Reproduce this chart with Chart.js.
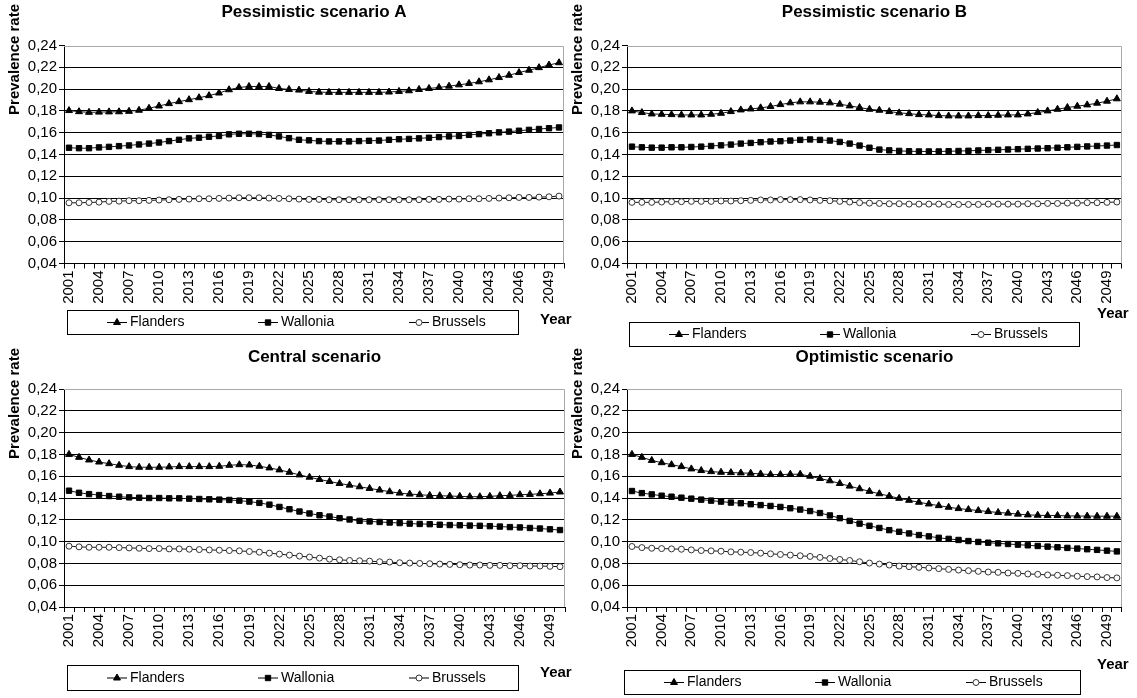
<!DOCTYPE html>
<html>
<head>
<meta charset="utf-8">
<script src="https://cdn.jsdelivr.net/npm/chart.js@4/dist/chart.umd.min.js"></script>
<style>
  html, body { margin: 0; padding: 0; background: #fff; }
  #wrap { position: relative; width: 1137px; height: 698px; overflow: hidden; background: #fff; }
  #wrap canvas { position: absolute; left: 0; top: 0; }
</style>
</head>
<body>
<div id="wrap">
  <canvas id="chartA" width="1137" height="698"></canvas>
  <canvas id="chartB" width="1137" height="698"></canvas>
  <canvas id="chartC" width="1137" height="698"></canvas>
  <canvas id="chartD" width="1137" height="698"></canvas>
</div>
<script>
// Projection years (category axis)
const years = ['2001','2002','2003','2004','2005','2006','2007','2008','2009','2010',
  '2011','2012','2013','2014','2015','2016','2017','2018','2019','2020',
  '2021','2022','2023','2024','2025','2026','2027','2028','2029','2030',
  '2031','2032','2033','2034','2035','2036','2037','2038','2039','2040',
  '2041','2042','2043','2044','2045','2046','2047','2048','2049','2050'];

// Prevalence-rate axis ticks
const yTickValues = [0.04, 0.06, 0.08, 0.10, 0.12, 0.14, 0.16, 0.18, 0.20, 0.22, 0.24];

const regionNames = ['Flanders', 'Wallonia', 'Brussels'];

// Pessimistic scenario A
const flandersA = [0.1803,0.1793,0.1787,0.1789,0.1791,0.1792,0.1796,0.1806,0.1824,0.1845,
  0.1867,0.1885,0.1903,0.1921,0.1940,0.1964,0.1994,0.2015,0.2024,0.2024,
  0.2024,0.2006,0.1997,0.1991,0.1979,0.1972,0.1970,0.1970,0.1970,0.1970,
  0.1970,0.1970,0.1973,0.1979,0.1985,0.1997,0.2006,0.2015,0.2027,0.2039,
  0.2052,0.2067,0.2085,0.2106,0.2127,0.2152,0.2173,0.2197,0.2221,0.2242];
const walloniaA = [0.1462,0.1458,0.1458,0.1465,0.1470,0.1477,0.1483,0.1492,0.1500,0.1510,
  0.1523,0.1535,0.1548,0.1554,0.1563,0.1570,0.1585,0.1590,0.1590,0.1588,
  0.1580,0.1566,0.1550,0.1535,0.1530,0.1523,0.1520,0.1520,0.1520,0.1523,
  0.1526,0.1528,0.1535,0.1540,0.1543,0.1548,0.1554,0.1560,0.1566,0.1570,
  0.1580,0.1587,0.1595,0.1603,0.1610,0.1618,0.1626,0.1634,0.1641,0.1648];
const brusselsA = [0.0957,0.0957,0.0960,0.0963,0.0970,0.0972,0.0976,0.0976,0.0979,0.0982,
  0.0985,0.0988,0.0991,0.0994,0.0994,0.0997,0.1000,0.1003,0.1003,0.1003,
  0.1000,0.0997,0.0994,0.0991,0.0988,0.0988,0.0985,0.0985,0.0985,0.0985,
  0.0985,0.0985,0.0985,0.0985,0.0985,0.0985,0.0988,0.0988,0.0991,0.0991,
  0.0994,0.0994,0.0997,0.1000,0.1003,0.1006,0.1006,0.1009,0.1012,0.1018];

// Pessimistic scenario B
const flandersB = [0.1800,0.1785,0.1772,0.1769,0.1766,0.1763,0.1763,0.1763,0.1769,0.1778,
  0.1794,0.1809,0.1818,0.1828,0.1840,0.1858,0.1874,0.1883,0.1883,0.1880,
  0.1874,0.1862,0.1846,0.1831,0.1815,0.1806,0.1794,0.1782,0.1775,0.1766,
  0.1763,0.1757,0.1754,0.1754,0.1754,0.1757,0.1757,0.1760,0.1763,0.1763,
  0.1772,0.1785,0.1800,0.1815,0.1831,0.1843,0.1855,0.1871,0.1889,0.1911];
const walloniaB = [0.1472,0.1466,0.1463,0.1463,0.1466,0.1466,0.1469,0.1472,0.1478,0.1484,
  0.1491,0.1500,0.1506,0.1513,0.1519,0.1522,0.1528,0.1534,0.1538,0.1534,
  0.1528,0.1515,0.1500,0.1482,0.1462,0.1445,0.1438,0.1433,0.1430,0.1428,
  0.1428,0.1428,0.1430,0.1432,0.1434,0.1437,0.1440,0.1443,0.1446,0.1449,
  0.1452,0.1455,0.1458,0.1462,0.1466,0.1470,0.1474,0.1478,0.1482,0.1487];
const brusselsB = [0.0961,0.0961,0.0961,0.0964,0.0967,0.0967,0.0970,0.0970,0.0970,0.0973,
  0.0973,0.0976,0.0979,0.0983,0.0983,0.0986,0.0986,0.0986,0.0983,0.0979,
  0.0976,0.0970,0.0964,0.0958,0.0954,0.0951,0.0948,0.0948,0.0945,0.0945,
  0.0945,0.0945,0.0942,0.0942,0.0942,0.0942,0.0945,0.0945,0.0945,0.0945,
  0.0948,0.0948,0.0951,0.0951,0.0954,0.0954,0.0958,0.0958,0.0961,0.0964];

// Central scenario
const flandersC = [0.1800,0.1773,0.1749,0.1730,0.1715,0.1700,0.1688,0.1682,0.1682,0.1682,
  0.1685,0.1688,0.1688,0.1688,0.1688,0.1691,0.1700,0.1706,0.1703,0.1691,
  0.1676,0.1658,0.1636,0.1612,0.1591,0.1570,0.1552,0.1533,0.1518,0.1503,
  0.1488,0.1473,0.1458,0.1445,0.1436,0.1430,0.1424,0.1421,0.1418,0.1415,
  0.1412,0.1412,0.1415,0.1421,0.1424,0.1430,0.1433,0.1439,0.1445,0.1455];
const walloniaC = [0.1467,0.1448,0.1436,0.1427,0.1418,0.1412,0.1406,0.1403,0.1400,0.1400,
  0.1397,0.1397,0.1394,0.1391,0.1388,0.1385,0.1382,0.1376,0.1367,0.1355,
  0.1339,0.1318,0.1297,0.1276,0.1258,0.1242,0.1230,0.1215,0.1203,0.1190,
  0.1185,0.1180,0.1175,0.1170,0.1165,0.1162,0.1160,0.1155,0.1152,0.1150,
  0.1147,0.1145,0.1142,0.1138,0.1133,0.1130,0.1125,0.1120,0.1113,0.1106];
const brusselsC = [0.0958,0.0952,0.0948,0.0948,0.0948,0.0945,0.0942,0.0939,0.0936,0.0936,
  0.0933,0.0933,0.0930,0.0927,0.0924,0.0921,0.0918,0.0915,0.0909,0.0903,
  0.0894,0.0885,0.0876,0.0867,0.0858,0.0848,0.0839,0.0833,0.0827,0.0824,
  0.0821,0.0815,0.0812,0.0806,0.0803,0.0800,0.0797,0.0794,0.0791,0.0788,
  0.0785,0.0785,0.0782,0.0782,0.0779,0.0779,0.0776,0.0776,0.0773,0.0770];

// Optimistic scenario
const flandersD = [0.1800,0.1773,0.1745,0.1724,0.1706,0.1688,0.1667,0.1652,0.1642,0.1636,
  0.1633,0.1630,0.1627,0.1621,0.1615,0.1615,0.1618,0.1618,0.1600,0.1579,
  0.1558,0.1533,0.1509,0.1485,0.1461,0.1439,0.1418,0.1397,0.1379,0.1361,
  0.1345,0.1330,0.1315,0.1303,0.1294,0.1285,0.1276,0.1267,0.1261,0.1252,
  0.1245,0.1242,0.1239,0.1239,0.1236,0.1235,0.1234,0.1233,0.1233,0.1233];
const walloniaD = [0.1464,0.1445,0.1433,0.1421,0.1412,0.1403,0.1394,0.1385,0.1376,0.1367,
  0.1358,0.1352,0.1343,0.1335,0.1327,0.1318,0.1306,0.1294,0.1280,0.1262,
  0.1240,0.1215,0.1190,0.1165,0.1145,0.1125,0.1105,0.1090,0.1075,0.1060,
  0.1048,0.1035,0.1025,0.1015,0.1005,0.0997,0.0990,0.0984,0.0978,0.0972,
  0.0966,0.0960,0.0954,0.0948,0.0942,0.0936,0.0930,0.0924,0.0917,0.0910];
const brusselsD = [0.0955,0.0945,0.0939,0.0936,0.0933,0.0930,0.0924,0.0918,0.0915,0.0912,
  0.0906,0.0903,0.0900,0.0894,0.0888,0.0882,0.0876,0.0870,0.0864,0.0855,
  0.0845,0.0836,0.0827,0.0815,0.0803,0.0794,0.0785,0.0776,0.0770,0.0764,
  0.0758,0.0752,0.0745,0.0739,0.0733,0.0727,0.0721,0.0718,0.0712,0.0709,
  0.0703,0.0700,0.0694,0.0691,0.0688,0.0682,0.0679,0.0676,0.0670,0.0667];

const FONT = '"Liberation Sans", Arial, Helvetica, sans-serif';
const PAGE_W = 1137, PAGE_H = 698;
const Y_AXIS_W = 50, X_AXIS_H = 48;

// Marker look for each region
const seriesStyle = [
  { pointStyle: 'triangle', radius: 4,   fill: '#000', stroke: '#000' },
  { pointStyle: 'rect',     radius: 3.8, fill: '#000', stroke: '#000' },
  { pointStyle: 'circle',   radius: 3,   fill: '#fff', stroke: '#333' }
];

// Panel arrangement on the page
const panels = [
  { canvas: 'chartA', title: 'Pessimistic scenario A', series: [flandersA, walloniaA, brusselsA],
    plot: { l: 64, r: 564, t: 45.5, b: 263.5 }, titleY: 12, captionX: 15, captionTop: 4,
    yearX: 540, yearY: 320, legend: { x: 67, y: 310, w: 451, h: 24 } },
  { canvas: 'chartB', title: 'Pessimistic scenario B', series: [flandersB, walloniaB, brusselsB],
    plot: { l: 627, r: 1125, t: 45.5, b: 263.5 }, titleY: 12, captionX: 578, captionTop: 4,
    yearX: 1097, yearY: 314, legend: { x: 629, y: 322, w: 450, h: 24 } },
  { canvas: 'chartC', title: 'Central scenario', series: [flandersC, walloniaC, brusselsC],
    plot: { l: 64, r: 565, t: 389, b: 607 }, titleY: 357, captionX: 15, captionTop: 348,
    yearX: 540, yearY: 673, legend: { x: 67, y: 665, w: 451, h: 25 } },
  { canvas: 'chartD', title: 'Optimistic scenario', series: [flandersD, walloniaD, brusselsD],
    plot: { l: 627, r: 1125, t: 389, b: 607 }, titleY: 357, captionX: 578, captionTop: 348,
    yearX: 1097, yearY: 665, legend: { x: 624, y: 670, w: 456, h: 24 } }
];

// Plot-area frame, titles, axis captions and boxed legend
const panelDecor = {
  id: 'panelDecor',
  beforeDatasetsDraw(chart, args, o) {
    const { ctx, chartArea: a } = chart;
    ctx.save();
    ctx.strokeStyle = '#a8a8a8';
    ctx.lineWidth = 1;
    ctx.beginPath();
    ctx.moveTo(a.left, Math.round(a.top) + 0.5);
    ctx.lineTo(Math.round(a.right) - 0.5, Math.round(a.top) + 0.5);
    ctx.lineTo(Math.round(a.right) - 0.5, a.bottom);
    ctx.stroke();
    ctx.restore();
  },
  afterDraw(chart, args, o) {
    const { ctx, chartArea: a } = chart;
    ctx.save();
    ctx.fillStyle = '#000';
    // title
    ctx.font = 'bold 17px ' + FONT;
    ctx.textAlign = 'center';
    ctx.textBaseline = 'middle';
    ctx.fillText(o.title, (a.left + a.right) / 2, o.titleY);
    // y caption
    ctx.save();
    ctx.font = 'bold 15px ' + FONT;
    ctx.translate(o.captionX, o.captionTop);
    ctx.rotate(-Math.PI / 2);
    ctx.textAlign = 'right';
    ctx.textBaseline = 'middle';
    ctx.fillText('Prevalence rate', 0, 0);
    ctx.restore();
    // x caption
    ctx.font = 'bold 15px ' + FONT;
    ctx.textAlign = 'left';
    ctx.textBaseline = 'middle';
    ctx.fillText('Year', o.yearX, o.yearY);
    // legend
    const L = o.legend;
    ctx.strokeStyle = '#000';
    ctx.lineWidth = 1;
    ctx.strokeRect(L.x + 0.5, L.y + 0.5, L.w, L.h);
    const cy = L.y + L.h / 2 + 0.5;
    chart.data.datasets.forEach((ds, i) => {
      const st = seriesStyle[i];
      const lx = L.x + 40 + i * 151;
      ctx.strokeStyle = '#000';
      ctx.lineWidth = 1;
      ctx.beginPath();
      ctx.moveTo(lx, cy);
      ctx.lineTo(lx + 20, cy);
      ctx.stroke();
      ctx.fillStyle = st.fill;
      ctx.strokeStyle = st.stroke;
      Chart.helpers.drawPoint(ctx, { pointStyle: st.pointStyle, radius: st.radius, rotation: 0, borderWidth: 1 }, lx + 10, cy);
      ctx.fillStyle = '#000';
      ctx.font = '14px ' + FONT;
      ctx.textAlign = 'left';
      ctx.textBaseline = 'middle';
      ctx.fillText(ds.label, lx + 23, cy);
    });
    ctx.restore();
  }
};

function buildChart(p) {
  const datasets = p.series.map((values, i) => ({
    label: regionNames[i],
    data: values,
    borderColor: '#1a1a1a',
    borderWidth: 1,
    tension: 0,
    pointStyle: seriesStyle[i].pointStyle,
    pointRadius: seriesStyle[i].radius,
    pointBackgroundColor: seriesStyle[i].fill,
    pointBorderColor: seriesStyle[i].stroke,
    pointBorderWidth: 1,
    clip: false
  }));
  return new Chart(document.getElementById(p.canvas), {
    type: 'line',
    data: { labels: years, datasets },
    options: {
      responsive: false,
      animation: false,
      devicePixelRatio: 1,
      events: [],
      layout: {
        padding: {
          left: p.plot.l - Y_AXIS_W,
          right: PAGE_W - p.plot.r,
          top: p.plot.t,
          bottom: PAGE_H - p.plot.b - X_AXIS_H
        }
      },
      plugins: {
        legend: { display: false },
        title: { display: false },
        tooltip: { enabled: false },
        panelDecor: {
          title: p.title, titleY: p.titleY, captionX: p.captionX, captionTop: p.captionTop,
          yearX: p.yearX, yearY: p.yearY, legend: p.legend
        }
      },
      scales: {
        x: {
          type: 'category',
          offset: true,
          grid: { display: true, drawOnChartArea: false, drawTicks: true, tickLength: 5,
                  color: '#000', tickColor: '#000', offset: true },
          border: { display: true, color: '#000', width: 1 },
          ticks: {
            autoSkip: false, minRotation: 90, maxRotation: 90, padding: 2, color: '#000',
            font: { family: FONT, size: 15 },
            callback: (v, i) => (i % 3 === 0 ? years[i] : '')
          },
          afterFit: s => { s.height = X_AXIS_H; }
        },
        y: {
          min: 0.04, max: 0.24,
          afterBuildTicks: s => { s.ticks = yTickValues.map(v => ({ value: v })); },
          grid: {
            display: true, drawTicks: true, tickLength: 5, tickColor: '#000', lineWidth: 1,
            color: c => (c.tick && c.tick.value > 0.239 ? 'rgba(0,0,0,0)' : '#000')
          },
          border: { display: true, color: '#000', width: 1 },
          ticks: {
            padding: 2, color: '#000',
            font: { family: FONT, size: 15 },
            callback: v => Number(v).toFixed(2).replace('.', ',')
          },
          afterFit: s => { s.width = Y_AXIS_W; }
        }
      }
    },
    plugins: [panelDecor]
  });
}

panels.forEach(buildChart);
</script>
</body>
</html>
